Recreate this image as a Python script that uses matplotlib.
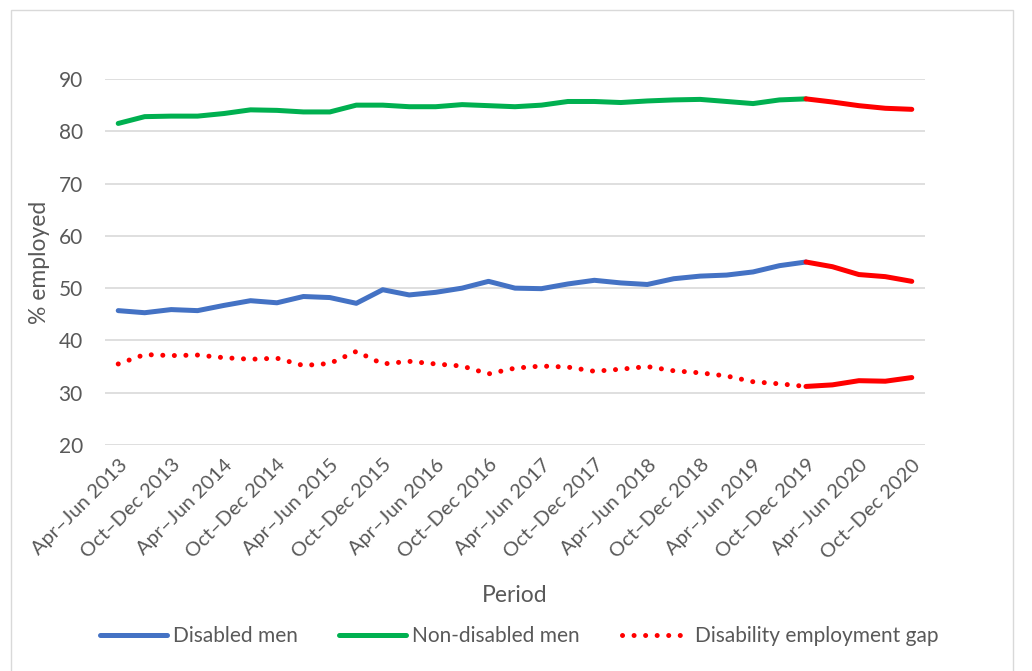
import matplotlib
matplotlib.use("Agg")
import matplotlib.pyplot as plt
from matplotlib.patches import Rectangle
from matplotlib.lines import Line2D

years = list(range(2013, 2021))
quarters = ["Jan\u2013Mar", "Apr\u2013Jun", "Jul\u2013Sep", "Oct\u2013Dec"]
periods = [f"{q} {y}" for y in years for q in quarters][1:]  # Apr–Jun 2013 .. Oct–Dec 2020

disabled_men = [45.7, 45.3, 45.9, 45.7, 46.7, 47.6, 47.2, 48.4, 48.2, 47.1,
                49.7, 48.7, 49.2, 50.0, 51.3, 50.0, 49.9, 50.8, 51.5, 51.0,
                50.7, 51.8, 52.3, 52.5, 53.1, 54.3, 55.0, 54.1, 52.6, 52.2, 51.3]
non_disabled_men = [81.5, 82.8, 82.9, 82.9, 83.4, 84.1, 84.0, 83.7, 83.7, 85.0,
                    85.0, 84.7, 84.7, 85.1, 84.9, 84.7, 85.0, 85.7, 85.7, 85.5,
                    85.8, 86.0, 86.1, 85.7, 85.3, 86.0, 86.2, 85.6, 84.9, 84.4, 84.2]
gap = [35.5, 37.3, 37.1, 37.2, 36.7, 36.4, 36.6, 35.2, 35.6, 37.9,
       35.5, 36.0, 35.5, 35.1, 33.6, 34.7, 35.1, 34.9, 34.1, 34.5,
       35.0, 34.2, 33.8, 33.2, 32.1, 31.7, 31.2, 31.5, 32.3, 32.2, 32.9]
covid_start = periods.index("Oct\u2013Dec 2019")

BLUE = "#4472C4"
GREEN = "#00B050"
RED = "#FF0000"
TXT = "#595959"
GRID = "#D9D9D9"

plt.rcParams['font.family'] = ['Lato', 'DejaVu Sans']

fig = plt.figure(figsize=(10.32, 6.71), dpi=100)
fig.patches.append(Rectangle((11/1032, -0.05), (1013-11)/1032, 1.05 - 10/671,
                             transform=fig.transFigure, fill=False,
                             edgecolor=GRID, linewidth=1.0))
ax = fig.add_axes([105/1032, 1-445/671, (925-105)/1032, (445-79)/671])

x = list(range(len(periods)))
lw = 3.6
ax.plot(x[:covid_start+1], disabled_men[:covid_start+1], color=BLUE, lw=lw,
        solid_capstyle='round', solid_joinstyle='round')
ax.plot(x[covid_start:], disabled_men[covid_start:], color=RED, lw=lw,
        solid_capstyle='round', solid_joinstyle='round')
ax.plot(x[:covid_start+1], non_disabled_men[:covid_start+1], color=GREEN, lw=lw,
        solid_capstyle='round', solid_joinstyle='round')
ax.plot(x[covid_start:], non_disabled_men[covid_start:], color=RED, lw=lw,
        solid_capstyle='round', solid_joinstyle='round')
ax.plot(x[:covid_start+1], gap[:covid_start+1], color=RED, lw=lw,
        linestyle=(0, (0.01, 2.3)), dash_capstyle='round')
ax.plot(x[covid_start:], gap[covid_start:], color=RED, lw=lw,
        solid_capstyle='round', solid_joinstyle='round')

ax.set_xlim(-0.5, len(periods) - 0.5)
ax.set_ylim(20, 90)
ax.set_yticks(range(20, 91, 10))
ax.set_xticks(x[::2])
ax.set_xticklabels(periods[::2], rotation=45, ha='right', va='top',
                   rotation_mode='anchor')
ax.tick_params(axis='x', length=0, colors=TXT, labelsize=14.5, pad=8)
ax.tick_params(axis='y', length=0, colors=TXT, labelsize=15, pad=16)
for s in ax.spines.values():
    s.set_visible(False)
ax.grid(axis='y', color=GRID, linewidth=1.2)
ax.set_axisbelow(True)

ax.set_ylabel("% employed", color=TXT, fontsize=16.5, labelpad=6)
fig.text(515/1032, 1-595/671, "Period", color=TXT, fontsize=16.5,
         ha='center', va='center')

handles = [
    Line2D([], [], color=BLUE, lw=lw, solid_capstyle='round'),
    Line2D([], [], color=GREEN, lw=lw, solid_capstyle='round'),
    Line2D([], [], color=RED, lw=lw, linestyle=(0, (0.01, 2.3)), dash_capstyle='round'),
]
labels = ["Disabled men", "Non-disabled men", "Disability employment gap"]
leg = fig.legend(handles, labels, loc='center', bbox_to_anchor=(519/1032, 1-636/671),
                 ncol=3, frameon=False, fontsize=15, handlelength=3.2,
                 handletextpad=0.3, columnspacing=2.0, labelcolor=TXT)

fig.savefig("out.png", dpi=100)
